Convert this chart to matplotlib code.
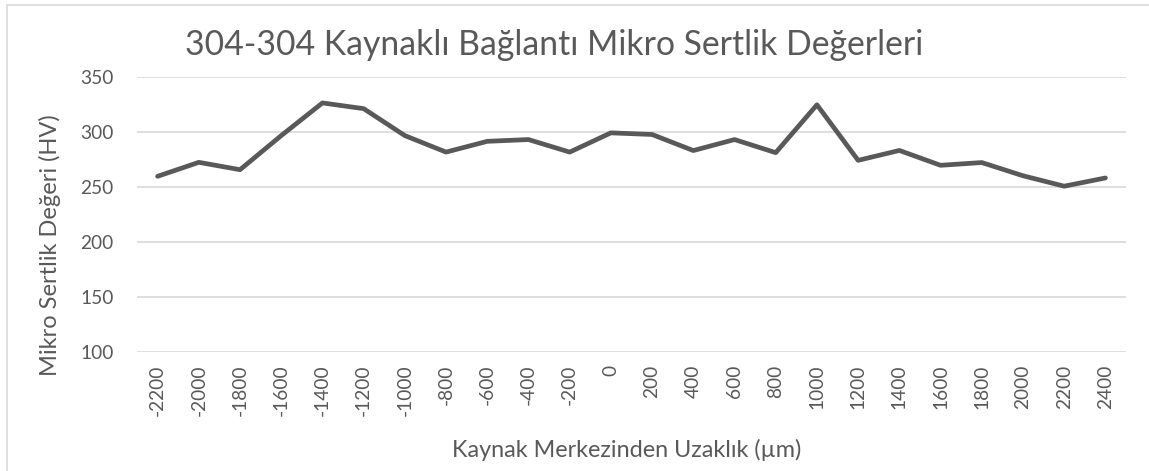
import matplotlib
matplotlib.use("Agg")
import matplotlib.pyplot as plt
from matplotlib.patches import Rectangle

# Distance from weld centre (µm) and micro-hardness readings (HV)
distances = [-2200, -2000, -1800, -1600, -1400, -1200, -1000, -800, -600, -400, -200, 0,
             200, 400, 600, 800, 1000, 1200, 1400, 1600, 1800, 2000, 2200, 2400]
hardness = [260, 272.7, 266, 297, 326.7, 321.5, 297, 282, 291.8, 293.4, 282, 299.5,
            298, 283.4, 293.4, 281.5, 325, 274.5, 283.5, 270, 272.5, 260.5, 251, 258.5]
y_ticks = [100, 150, 200, 250, 300, 350]

title = "304-304 Kaynaklı Bağlantı Mikro Sertlik Değerleri"
x_label = "Kaynak Merkezinden Uzaklık (µm)"
y_label = "Mikro Sertlik Değeri (HV)"

plt.rcParams["font.family"] = ["Lato", "DejaVu Sans"]
text_color = "#595959"

W, H = 1149, 471
fig = plt.figure(figsize=(W / 100, H / 100), dpi=100)
fig.patch.set_facecolor("white")

# chart border
fig.patches.append(Rectangle((7 / W, -0.1), 1.2, (H - 4.5) / H + 0.1,
                             transform=fig.transFigure, fill=False,
                             edgecolor="#d9d9d9", linewidth=1.2))

left, right, top, bottom = 137, 1126, 77.3, 352.3
ax = fig.add_axes([left / W, (H - bottom) / H, (right - left) / W, (bottom - top) / H])

positions = list(range(len(distances)))
ax.plot(positions, hardness, color="#595959", linewidth=3.4,
        solid_joinstyle="round", solid_capstyle="round", zorder=3)

ax.set_xlim(-0.5, len(distances) - 0.5)
ax.set_ylim(100, 350)
ax.set_yticks(y_ticks)
ax.set_yticklabels([str(v) for v in y_ticks])
ax.set_xticks(positions)
ax.set_xticklabels([str(d) for d in distances], rotation=90, va="top")

ax.grid(axis="y", color="#d9d9d9", linewidth=1.2, zorder=0)
for s in ax.spines.values():
    s.set_visible(False)
ax.tick_params(axis="both", length=0, colors=text_color, labelsize=13.8)
ax.tick_params(axis="y", pad=17)
ax.tick_params(axis="x", pad=9)

# axis titles and chart title
fig.text(50 / W, 1 - 245 / H, y_label, rotation=90, ha="center", va="center",
         fontsize=17, color=text_color)
fig.text(627 / W, 1 - 450 / H, x_label, ha="center", va="center",
         fontsize=16.8, color=text_color)
fig.text(554 / W, 1 - 45 / H, title, ha="center", va="center",
         fontsize=24.3, color=text_color)

fig.savefig("out.png", dpi=100)
